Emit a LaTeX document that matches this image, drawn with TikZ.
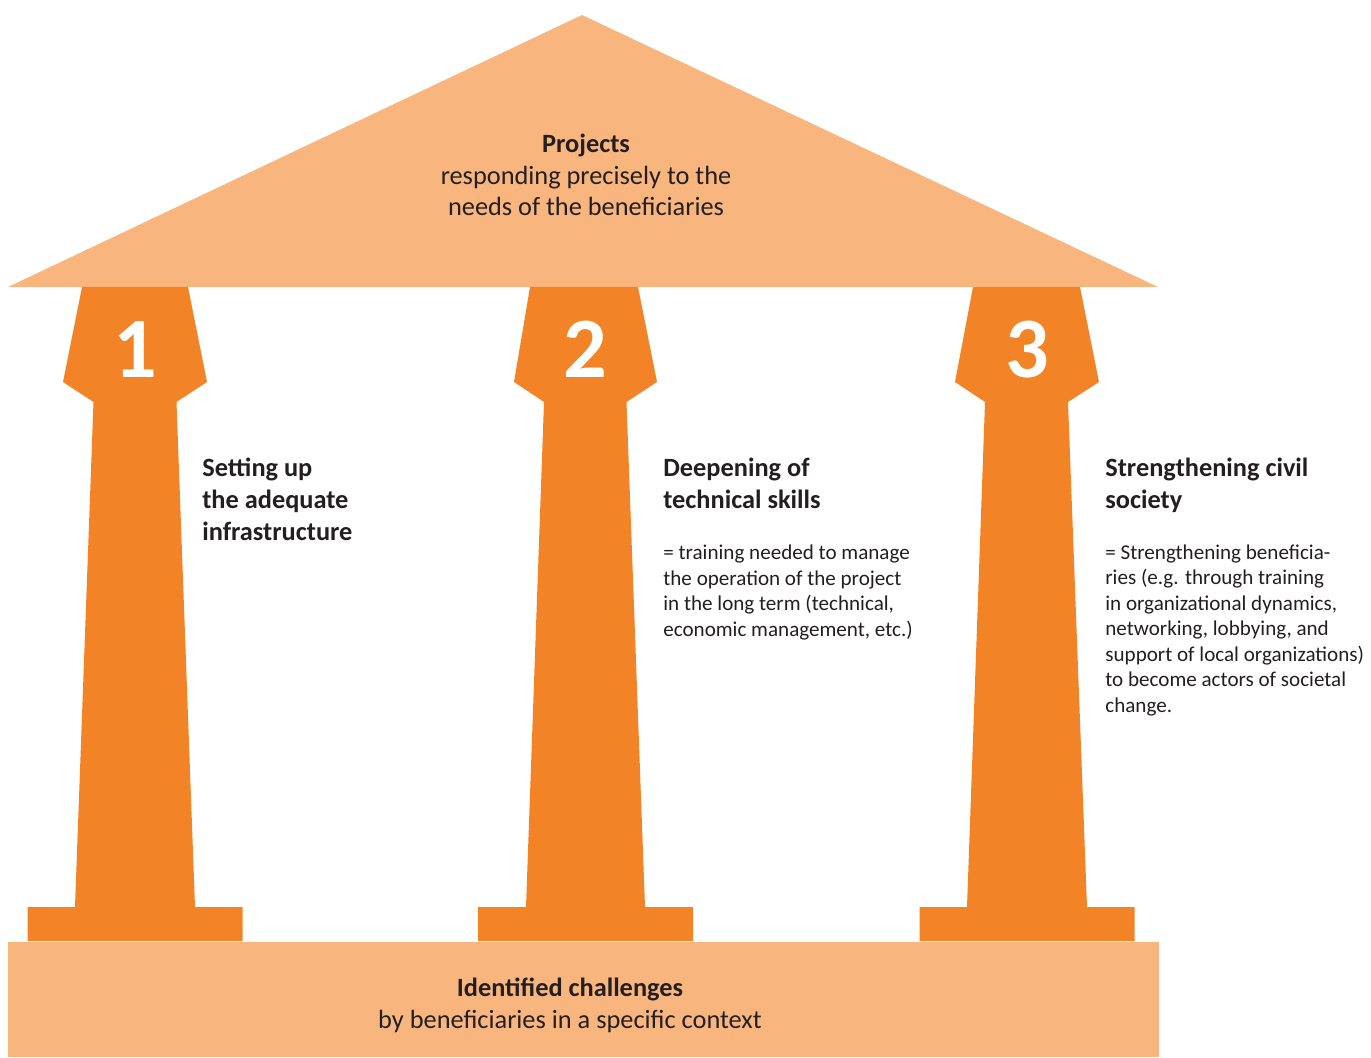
\documentclass[tikz,border=0pt]{standalone}
\usepackage{fontspec}
\setmainfont{Carlito}
\definecolor{pillarorange}{RGB}{242,131,39}
\definecolor{slaborange}{RGB}{248,182,126}
\definecolor{textgray}{RGB}{35,31,32}

\begin{document}
\begin{tikzpicture}[x=0.02cm,y=-0.02cm,
  pillar/.style={fill=pillarorange},
  slab/.style={fill=slaborange},
  title/.style={align=center, inner sep=0, anchor=base, text=textgray, font=\fontsize{15pt}{18.2pt}\selectfont},
  head/.style={align=left, inner sep=0, anchor=base west, text=textgray, font=\fontsize{15pt}{18.2pt}\selectfont\bfseries},
  desc/.style={align=left, inner sep=0, anchor=base west, text=textgray, font=\fontsize{12pt}{14.5pt}\selectfont},
  digit/.style={inner sep=0, anchor=base, text=white, font=\fontsize{49pt}{49pt}\selectfont\bfseries}]

\useasboundingbox (0,0) rectangle (1371,1057);

% roof and floor
\fill[slab] (8,287) -- (582,15) -- (1158,287) -- cycle;
\fill[slab] (8,942) rectangle (1159,1057);

% the three pillars
\fill[pillar, shift={(135,0)}] (-53,287) -- (53,287) -- (72,382) -- (41.5,402) -- (60,907)
      -- (107.5,907) -- (107.5,941) -- (-107.5,941) -- (-107.5,907) -- (-60,907)
      -- (-41.5,402) -- (-72,382) -- cycle;
\fill[pillar, shift={(585,0)}] (-55,287) -- (53,287) -- (72,382) -- (41.5,402) -- (60,907)
      -- (108,907) -- (108,941) -- (-107,941) -- (-107,907) -- (-59,907)
      -- (-41,402) -- (-71,382) -- cycle;
\fill[pillar, shift={(1027,0)}] (-54,287) -- (53,287) -- (72,382) -- (41,402) -- (60,907)
      -- (107.5,907) -- (107.5,941) -- (-107.5,941) -- (-107.5,907) -- (-60,907)
      -- (-42,402) -- (-72,382) -- cycle;

\draw (135,377) node[digit] (n1) {1}
      (585,377) node[digit] (n2) {2}
      (1027,377) node[digit] (n3) {3};

% base anchor sits on the last line
\draw (586,216) node[title] (projects) {\textbf{Projects}\\responding precisely to the\\needs of the beneficiaries}
      (570,1028) node[title] (challenges) {\textbf{Identified challenges}\\by beneficiaries in a specific context};

\draw (202,540) node[head] (h1) {Setting up\\the adequate\\infrastructure}
      (663,508) node[head] (h2) {Deepening of\\technical skills}
      (1105,508) node[head] (h3) {Strengthening civil\\society};

\draw (663,636) node[desc] (d2) {= training needed to manage\\the operation of the project\\in the long term (technical,\\economic management, etc.)}
      (1105,712) node[desc] (d3) {= Strengthening beneficia-\\ries (e.g. through training\\in organizational dynamics,\\networking, lobbying, and\\support of local organizations)\\to become actors of societal\\change.};
\end{tikzpicture}
\end{document}
